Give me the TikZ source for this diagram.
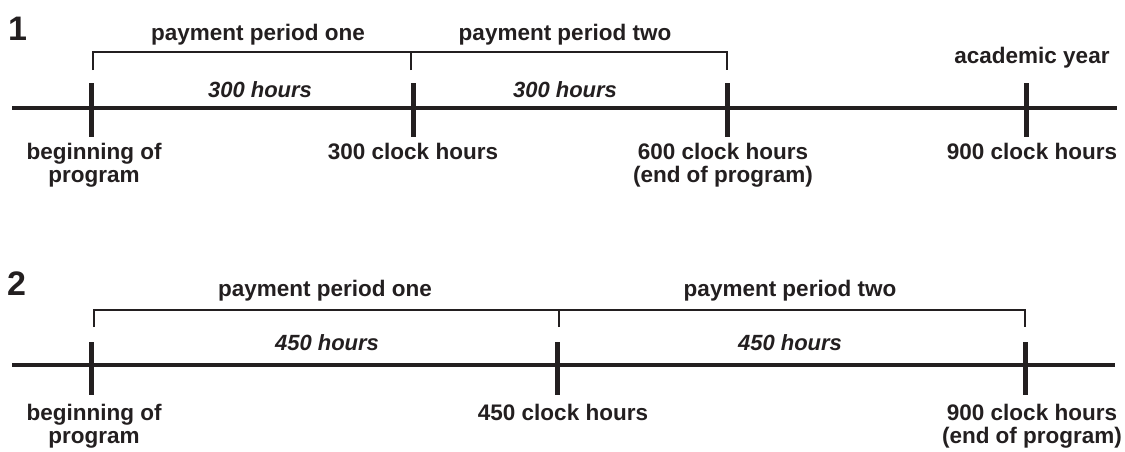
\documentclass[tikz,border=0pt]{standalone}
\usepackage{fontspec}
\setmainfont{Liberation Sans}
\definecolor{ink}{RGB}{35,31,32}
\begin{document}
\begin{tikzpicture}[x=1pt,y=-1pt,
  axisline/.style={draw=ink,line width=4pt},
  tickmark/.style={draw=ink,line width=5pt},
  bracketline/.style={draw=ink,line width=1.8pt},
  lbl/.style={text=ink,font=\bfseries\fontsize{22.5}{23}\selectfont,align=center,anchor=base,inner sep=0pt},
  hrs/.style={text=ink,font=\bfseries\itshape\fontsize{22}{23}\selectfont,anchor=base,inner sep=0pt},
  num/.style={text=ink,font=\bfseries\fontsize{34}{36}\selectfont,anchor=base west,inner sep=0pt}]
\useasboundingbox (0,0) rectangle (1125,451);

% ---------------- diagram 1 ----------------
\node[num] (n1) at (8,40) {1};
\coordinate (l1s) at (12,108);
\coordinate (l1e) at (1117,108);
\draw[axisline] (l1s) -- (l1e);
\foreach \x/\n in {91/a,413/b,727/c,1026/d}{
  \coordinate (t1\n top) at (\x,83);
  \coordinate (t1\n bot) at (\x,137);
  \draw[tickmark] (t1\n top) -- (t1\n bot);
}
\coordinate (b1l) at (93,70);  \coordinate (b1lt) at (93,52);
\coordinate (b1m) at (411,70); \coordinate (b1mt) at (411,52);
\coordinate (b1r) at (727,70); \coordinate (b1rt) at (727,52);
\draw[bracketline] (b1l) -- (b1lt) -- (b1rt) -- (b1r);
\draw[bracketline] (b1m) -- (b1mt);
\node[lbl] (p1one) at (258,40) {payment period one};
\node[lbl] (p1two) at (565,40) {payment period two};
\node[hrs] (h1a) at (260,97) {300 hours};
\node[hrs] (h1b) at (565,97) {300 hours};
\node[lbl] (ay) at (1032,63) {academic year};
\node[lbl] (c1a) at (94,182) {beginning of\\program};
\node[lbl] (c1b) at (413,159) {300 clock hours};
\node[lbl] (c1c) at (723,182) {600 clock hours\\(end of program)};
\node[lbl] (c1d) at (1032,159) {900 clock hours};

% ---------------- diagram 2 ----------------
\node[num] (n2) at (7,295) {2};
\coordinate (l2s) at (12,365);
\coordinate (l2e) at (1115,365);
\draw[axisline] (l2s) -- (l2e);
\foreach \x/\n in {91/a,557/b,1025/c}{
  \coordinate (t2\n top) at (\x,342);
  \coordinate (t2\n bot) at (\x,395);
  \draw[tickmark] (t2\n top) -- (t2\n bot);
}
\coordinate (b2l) at (94,327);   \coordinate (b2lt) at (94,310);
\coordinate (b2m) at (559,327);  \coordinate (b2mt) at (559,310);
\coordinate (b2r) at (1025,327); \coordinate (b2rt) at (1025,310);
\draw[bracketline] (b2l) -- (b2lt) -- (b2rt) -- (b2r);
\draw[bracketline] (b2m) -- (b2mt);
\node[lbl] (p2one) at (325,296) {payment period one};
\node[lbl] (p2two) at (790,296) {payment period two};
\node[hrs] (h2a) at (327,350) {450 hours};
\node[hrs] (h2b) at (790,350) {450 hours};
\node[lbl] (c2a) at (94,443) {beginning of\\program};
\node[lbl] (c2b) at (563,420) {450 clock hours};
\node[lbl] (c2c) at (1032,443) {900 clock hours\\(end of program)};
\end{tikzpicture}
\end{document}
